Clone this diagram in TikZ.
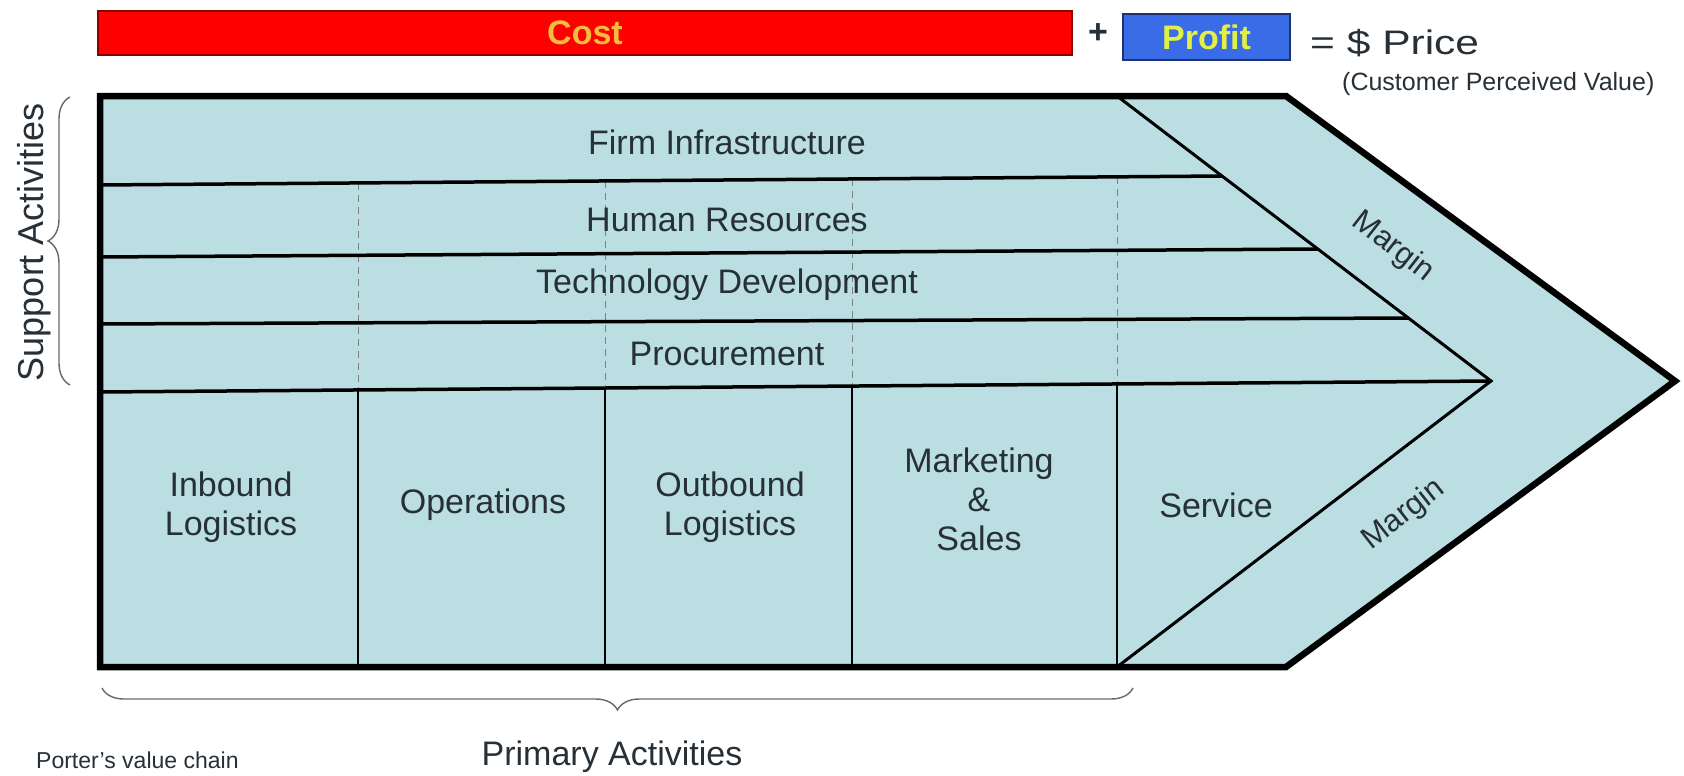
\documentclass[tikz,border=0pt]{standalone}
\usepackage{fontspec}
\usepackage{graphicx}
\setmainfont{Liberation Sans}
\usetikzlibrary{decorations.pathreplacing,calc}
\definecolor{chainfill}{RGB}{186,222,226}
\definecolor{costred}{RGB}{255,0,0}
\definecolor{costedge}{RGB}{140,0,0}
\definecolor{costtext}{RGB}{244,188,60}
\definecolor{profitblue}{RGB}{58,108,232}
\definecolor{profitedge}{RGB}{30,50,110}
\definecolor{profittext}{RGB}{226,240,70}
\definecolor{inktext}{RGB}{38,48,54}
\definecolor{bracegray}{RGB}{105,105,105}
\begin{document}
\begin{tikzpicture}[x=1pt,y=-1pt,
  lbl/.style={font=\fontsize{34}{39}\selectfont, text=inktext, align=center, inner sep=0pt},
  small/.style={font=\fontsize{25}{29}\selectfont, text=inktext, inner sep=0pt},
  marginlbl/.style={font=\fontsize{31}{35}\selectfont, text=inktext, inner sep=0pt},
  bartext/.style={font=\bfseries\fontsize{34}{38}\selectfont},
  rowline/.style={line width=3.5pt, black},
  colline/.style={line width=2.4pt, black},
  dashline/.style={line width=1pt, gray, dash pattern=on 7pt off 5pt},
  bracestyle/.style={decorate, decoration={brace, amplitude=22pt}, line width=1.4pt, bracegray}
]
\useasboundingbox (0,0) rectangle (1684,776);
\fill[white] (0,0) rectangle (1684,776);

% top bars
\node[draw=costedge, line width=2pt, fill=costred, minimum width=974pt, minimum height=44pt, anchor=north west, inner sep=0pt] (cost) at (97,10) {};
\node[bartext, text=costtext] (costlbl) at (cost.center) {Cost};
\node[bartext, text=inktext] (plus) at (1098,34) {+};
\node[draw=profitedge, line width=2pt, fill=profitblue, minimum width=167pt, minimum height=46pt, anchor=north west, inner sep=0pt] (profit) at (1122,13) {};
\node[bartext, text=profittext] (profitlbl) at (profit.center) {Profit};
\node[lbl, anchor=west] (price) at (1310,43) {\scalebox{1.25}[1]{= \$ Price}};
\node[small, anchor=west] (cpv) at (1342,84) {(Customer Perceived Value)};

% chevron body
\coordinate (tl) at (100,96);
\coordinate (tr) at (1286,96);
\coordinate (tip) at (1675,381);
\coordinate (br) at (1286,667);
\coordinate (bl) at (100,667);
\coordinate (itop) at (1117,96);
\coordinate (itip) at (1491,381);
\coordinate (ibot) at (1117,667);
\fill[chainfill] (tl) -- (tr) -- (tip) -- (br) -- (bl) -- cycle;

% dashed column guides in support rows
\draw[dashline] (358,183) -- (358,390);
\draw[dashline] (605,181) -- (605,388);
\draw[dashline] (852,179) -- (852,386);
\draw[dashline] (1117,177) -- (1117,384);

% support row lines
\draw[rowline] (100,185) -- (1222,176);
\draw[rowline] (100,257) -- (1318,249);
\draw[rowline] (100,324) -- (1408,318);
\draw[rowline] (100,392) -- (itip);

% primary column lines
\draw[colline] (358,390) -- (358,667);
\draw[colline] (605,388) -- (605,667);
\draw[colline] (852,386) -- (852,667);
\draw[colline] (1117,384) -- (ibot);

% inner margin chevron
\draw[line width=3pt, line join=miter] (itop) -- (itip) -- (ibot);

% outer border
\draw[line width=6.5pt, line join=miter] (tl) -- (tr) -- (tip) -- (br) -- (bl) -- cycle;

% labels
\node[lbl] (firm) at (727,142) {Firm Infrastructure};
\node[lbl] (hr) at (727,220) {Human Resources};
\node[lbl] (tech) at (727,285) {Technology Development};
\node[lbl] (proc) at (727,354) {Procurement};
\node[lbl] (inb) at (231,507) {Inbound\\Logistics};
\node[lbl] (ops) at (483,505) {Operations};
\node[lbl] (outb) at (730,507) {Outbound\\Logistics};
\node[lbl] (mkt) at (979,499) {Marketing\\\&\\Sales};
\node[lbl] (svc) at (1216,505) {Service};
\node[marginlbl, rotate=-38] (m1) at (1393,247) {Margin};
\node[marginlbl, rotate=38] (m2) at (1404,515) {Margin};

% braces
\draw[bracestyle] (70,385) -- (70,97);
\node[lbl, font=\fontsize{36}{40}\selectfont, rotate=90] (supp) at (34,242) {Support Activities};
\draw[bracestyle] (1133,688) -- (102,688);
\node[lbl] (prim) at (612,757) {Primary Activities};
\node[font=\fontsize{23}{25}\selectfont, text=inktext, anchor=base west, inner sep=0pt] (porter) at (36,768) {Porter's value chain};
\end{tikzpicture}
\end{document}
